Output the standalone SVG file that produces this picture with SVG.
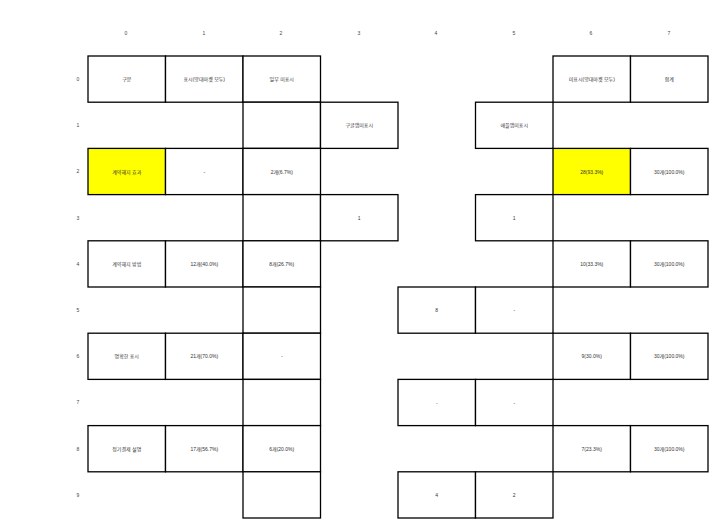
<svg xmlns="http://www.w3.org/2000/svg" width="717" height="528" viewBox="0 0 717 528">
<style>
.c{fill:#fff;stroke:#000;stroke-width:1.3}
.y{fill:#ffff00;stroke:#000;stroke-width:1.3}
text{font-family:"Liberation Sans","Noto Sans CJK KR",sans-serif;font-size:5px;fill:#333;text-anchor:middle;dominant-baseline:central}
.ax{fill:#444}
</style>
<rect width="717" height="528" fill="#fff"/>
<g id="axis">
<text class="ax" x="126" y="33">0</text>
<text class="ax" x="204" y="33">1</text>
<text class="ax" x="281" y="33">2</text>
<text class="ax" x="359" y="33">3</text>
<text class="ax" x="436" y="33">4</text>
<text class="ax" x="514" y="33">5</text>
<text class="ax" x="591" y="33">6</text>
<text class="ax" x="669" y="33">7</text>
<text class="ax" x="78" y="79">0</text>
<text class="ax" x="78" y="125">1</text>
<text class="ax" x="78" y="171">2</text>
<text class="ax" x="78" y="218">3</text>
<text class="ax" x="78" y="264">4</text>
<text class="ax" x="78" y="310">5</text>
<text class="ax" x="78" y="356">6</text>
<text class="ax" x="78" y="402">7</text>
<text class="ax" x="78" y="449">8</text>
<text class="ax" x="78" y="495">9</text>
</g>
<g id="connectors"></g>
<g id="r0c0"><rect class="c" x="88" y="56" width="77.5" height="46.2"/><text x="126.75" y="79.1">구분</text></g>
<g id="r0c1"><rect class="c" x="165.5" y="56" width="77.5" height="46.2"/><text x="204.25" y="79.1">표시(양대마켓 모두)</text></g>
<g id="r0c2"><rect class="c" x="243" y="56" width="77.5" height="46.2"/><text x="281.75" y="79.1">일부 미표시</text></g>
<g id="r0c6"><rect class="c" x="553" y="56" width="77.5" height="46.2"/><text x="591.75" y="79.1">미표시(양대마켓 모두)</text></g>
<g id="r0c7"><rect class="c" x="630.5" y="56" width="77.5" height="46.2"/><text x="669.25" y="79.1">합계</text></g>

<g id="r1c2"><rect class="c" x="243" y="102.2" width="77.5" height="46.2"/></g>
<g id="r1c3"><rect class="c" x="320.5" y="102.2" width="77.5" height="46.2"/><text x="359.25" y="125.3">구글앱미표시</text></g>
<g id="r1c5"><rect class="c" x="475.5" y="102.2" width="77.5" height="46.2"/><text x="514.25" y="125.3">애플앱미표시</text></g>

<g id="r2c0"><rect class="y" x="88" y="148.4" width="77.5" height="46.2"/><text x="126.75" y="171.5">계약해지 효과</text></g>
<g id="r2c1"><rect class="c" x="165.5" y="148.4" width="77.5" height="46.2"/><text x="204.25" y="171.5">-</text></g>
<g id="r2c2"><rect class="c" x="243" y="148.4" width="77.5" height="46.2"/><text x="281.75" y="171.5">2개(6.7%)</text></g>
<g id="r2c6"><rect class="y" x="553" y="148.4" width="77.5" height="46.2"/><text x="591.75" y="171.5">28(93.3%)</text></g>
<g id="r2c7"><rect class="c" x="630.5" y="148.4" width="77.5" height="46.2"/><text x="669.25" y="171.5">30개(100.0%)</text></g>

<g id="r3c2"><rect class="c" x="243" y="194.6" width="77.5" height="46.2"/></g>
<g id="r3c3"><rect class="c" x="320.5" y="194.6" width="77.5" height="46.2"/><text x="359.25" y="217.7">1</text></g>
<g id="r3c5"><rect class="c" x="475.5" y="194.6" width="77.5" height="46.2"/><text x="514.25" y="217.7">1</text></g>

<g id="r4c0"><rect class="c" x="88" y="240.8" width="77.5" height="46.2"/><text x="126.75" y="263.9">계약해지 방법</text></g>
<g id="r4c1"><rect class="c" x="165.5" y="240.8" width="77.5" height="46.2"/><text x="204.25" y="263.9">12개(40.0%)</text></g>
<g id="r4c2"><rect class="c" x="243" y="240.8" width="77.5" height="46.2"/><text x="281.75" y="263.9">8개(26.7%)</text></g>
<g id="r4c6"><rect class="c" x="553" y="240.8" width="77.5" height="46.2"/><text x="591.75" y="263.9">10(33.3%)</text></g>
<g id="r4c7"><rect class="c" x="630.5" y="240.8" width="77.5" height="46.2"/><text x="669.25" y="263.9">30개(100.0%)</text></g>

<g id="r5c2"><rect class="c" x="243" y="287" width="77.5" height="46.2"/></g>
<g id="r5c4"><rect class="c" x="398" y="287" width="77.5" height="46.2"/><text x="436.75" y="310.1">8</text></g>
<g id="r5c5"><rect class="c" x="475.5" y="287" width="77.5" height="46.2"/><text x="514.25" y="310.1">-</text></g>

<g id="r6c0"><rect class="c" x="88" y="333.2" width="77.5" height="46.2"/><text x="126.75" y="356.3">명확한 표시</text></g>
<g id="r6c1"><rect class="c" x="165.5" y="333.2" width="77.5" height="46.2"/><text x="204.25" y="356.3">21개(70.0%)</text></g>
<g id="r6c2"><rect class="c" x="243" y="333.2" width="77.5" height="46.2"/><text x="281.75" y="356.3">-</text></g>
<g id="r6c6"><rect class="c" x="553" y="333.2" width="77.5" height="46.2"/><text x="591.75" y="356.3">9(30.0%)</text></g>
<g id="r6c7"><rect class="c" x="630.5" y="333.2" width="77.5" height="46.2"/><text x="669.25" y="356.3">30개(100.0%)</text></g>

<g id="r7c2"><rect class="c" x="243" y="379.4" width="77.5" height="46.2"/></g>
<g id="r7c4"><rect class="c" x="398" y="379.4" width="77.5" height="46.2"/><text x="436.75" y="402.5">-</text></g>
<g id="r7c5"><rect class="c" x="475.5" y="379.4" width="77.5" height="46.2"/><text x="514.25" y="402.5">-</text></g>

<g id="r8c0"><rect class="c" x="88" y="425.6" width="77.5" height="46.2"/><text x="126.75" y="448.7">정기결제 설명</text></g>
<g id="r8c1"><rect class="c" x="165.5" y="425.6" width="77.5" height="46.2"/><text x="204.25" y="448.7">17개(56.7%)</text></g>
<g id="r8c2"><rect class="c" x="243" y="425.6" width="77.5" height="46.2"/><text x="281.75" y="448.7">6개(20.0%)</text></g>
<g id="r8c6"><rect class="c" x="553" y="425.6" width="77.5" height="46.2"/><text x="591.75" y="448.7">7(23.3%)</text></g>
<g id="r8c7"><rect class="c" x="630.5" y="425.6" width="77.5" height="46.2"/><text x="669.25" y="448.7">30개(100.0%)</text></g>

<g id="r9c2"><rect class="c" x="243" y="471.8" width="77.5" height="46.2"/></g>
<g id="r9c4"><rect class="c" x="398" y="471.8" width="77.5" height="46.2"/><text x="436.75" y="494.9">4</text></g>
<g id="r9c5"><rect class="c" x="475.5" y="471.8" width="77.5" height="46.2"/><text x="514.25" y="494.9">2</text></g>
</svg>
